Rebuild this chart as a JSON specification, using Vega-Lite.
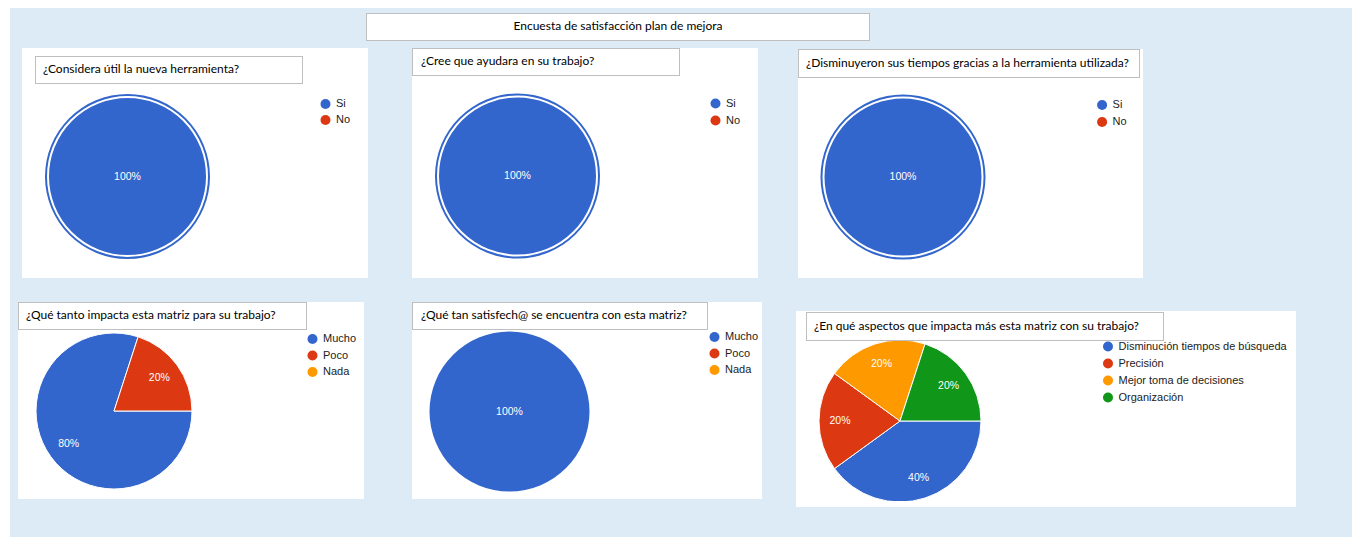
{
"$schema": "https://vega.github.io/schema/vega-lite/v6.json",
"background": "#ffffff",
"padding": {"left": 10, "top": 8, "right": 2, "bottom": 2},
"spacing": 0,
"resolve": {"scale": {"color": "independent", "theta": "independent"}, "legend": {"color": "independent"}},
"config": {
  "view": {"stroke": null},
  "concat": {"spacing": 0},
  "legend": {"orient": "none", "padding": 0, "symbolType": "circle", "symbolSize": 100, "symbolStrokeWidth": 0, "labelFont": "Liberation Sans", "labelFontSize": 11, "labelColor": "#222222", "labelOffset": 5, "rowPadding": 5, "labelLimit": 300},
  "title": {"font": "Lato", "fontSize": 12, "fontWeight": "normal", "color": "#000000", "anchor": "start", "baseline": "middle"}
},
"vconcat": [
  {"width": 1342, "height": 5, "data": {"values": []}, "mark": "point", "encoding": {}, "view": {"fill": "#ddebf7"}},
  {"spacing": 0, "hconcat": [
    {"width": 356, "height": 28, "data": {"values": []}, "mark": "point", "encoding": {}, "view": {"fill": "#ddebf7"}},
    {"spacing": 0, "vconcat": [
      {"width": 504, "height": 1, "data": {"values": []}, "mark": "point", "encoding": {}, "view": {"fill": "#bfbfbf"}},
      {"spacing": 0, "hconcat": [
        {"width": 1, "height": 26, "data": {"values": []}, "mark": "point", "encoding": {}, "view": {"fill": "#bfbfbf"}},
        {"width": 502, "height": 26, "data": {"values": []}, "mark": "point", "encoding": {}, "view": {"fill": "#ffffff"}, "title": {"text": "Encuesta de satisfacción plan de mejora", "anchor": "middle", "offset": -19}},
        {"width": 1, "height": 26, "data": {"values": []}, "mark": "point", "encoding": {}, "view": {"fill": "#bfbfbf"}}
      ]},
      {"width": 504, "height": 1, "data": {"values": []}, "mark": "point", "encoding": {}, "view": {"fill": "#bfbfbf"}}
    ]},
    {"width": 482, "height": 28, "data": {"values": []}, "mark": "point", "encoding": {}, "view": {"fill": "#ddebf7"}}
  ]},
  {"width": 1342, "height": 7, "data": {"values": []}, "mark": "point", "encoding": {}, "view": {"fill": "#ddebf7"}},
  {"spacing": 0, "resolve": {"scale": {"color": "independent", "theta": "independent"}, "legend": {"color": "independent"}}, "hconcat": [
    {"width": 12, "height": 230, "data": {"values": []}, "mark": "point", "encoding": {}, "view": {"fill": "#ddebf7"}},
    {"spacing": 0, "resolve": {"scale": {"color": "independent", "theta": "independent"}, "legend": {"color": "independent"}}, "vconcat": [
      {"width": 346, "height": 8, "data": {"values": []}, "mark": "point", "encoding": {}, "view": {"fill": "#ffffff"}},
      {"spacing": 0, "hconcat": [
        {"width": 13, "height": 28, "data": {"values": []}, "mark": "point", "encoding": {}, "view": {"fill": "#ffffff"}},
        {"spacing": 0, "vconcat": [
          {"width": 268, "height": 1, "data": {"values": []}, "mark": "point", "encoding": {}, "view": {"fill": "#bfbfbf"}},
          {"spacing": 0, "hconcat": [
            {"width": 1, "height": 26, "data": {"values": []}, "mark": "point", "encoding": {}, "view": {"fill": "#bfbfbf"}},
            {"width": 266, "height": 26, "data": {"values": []}, "mark": "point", "encoding": {}, "view": {"fill": "#ffffff"}, "title": {"text": "¿Considera útil la nueva herramienta?", "dx": 7, "offset": -19}},
            {"width": 1, "height": 26, "data": {"values": []}, "mark": "point", "encoding": {}, "view": {"fill": "#bfbfbf"}}
          ]},
          {"width": 268, "height": 1, "data": {"values": []}, "mark": "point", "encoding": {}, "view": {"fill": "#bfbfbf"}}
        ]},
        {"width": 65, "height": 28, "data": {"values": []}, "mark": "point", "encoding": {}, "view": {"fill": "#ffffff"}}
      ]},
      {"spacing": 0, "resolve": {"scale": {"color": "independent", "theta": "independent"}, "legend": {"color": "independent"}}, "hconcat": [
        {"width": 211, "height": 185, "view": {"fill": "#ffffff"},
         "data": {"values": [{"k": "Si", "v": 1, "i": 1}, {"k": "No", "v": 0, "i": 2}]},
         "transform": [{"filter": "datum.v > 0"}],
         "encoding": {"theta": {"field": "v", "type": "quantitative", "stack": true, "scale": {"range": [1.5708, 7.854]}}, "order": {"field": "i", "type": "quantitative"}},
         "layer": [
           {"mark": {"type": "arc", "radius": 82.5}, "encoding": {"color": {"field": "k", "type": "nominal", "scale": {"domain": ["Si", "No"], "range": ["#3366cc", "#dc3912"]}, "legend": null}}},
           {"mark": {"type": "arc", "radius": 79.5, "stroke": "#ffffff", "strokeWidth": 2}, "encoding": {"color": {"field": "k", "type": "nominal", "scale": {"domain": ["Si", "No"], "range": ["#3366cc", "#dc3912"]}, "legend": null}}},
           {"mark": {"type": "text", "radius": 0, "font": "Liberation Sans", "fontSize": 10.5, "fill": "#ffffff"}, "encoding": {"detail": {"field": "k", "type": "nominal"}, "text": {"field": "v", "type": "quantitative", "format": ".0%"}}}
         ]},
        {"width": 135, "height": 185, "view": {"fill": "#ffffff"}, "data": {"values": [{"k": "Si"}, {"k": "No"}]}, "mark": {"type": "arc", "radius": 0},
         "encoding": {"color": {"field": "k", "type": "nominal", "scale": {"domain": ["Si", "No"], "range": ["#3366cc", "#dc3912"]}, "legend": {"title": null, "legendX": 87, "legendY": 14.5, "rowPadding": 4}}}}
      ]},
      {"width": 346, "height": 9, "data": {"values": []}, "mark": "point", "encoding": {}, "view": {"fill": "#ffffff"}}
    ]},
    {"width": 44, "height": 230, "data": {"values": []}, "mark": "point", "encoding": {}, "view": {"fill": "#ddebf7"}},
    {"spacing": 0, "resolve": {"scale": {"color": "independent", "theta": "independent"}, "legend": {"color": "independent"}}, "vconcat": [
      {"spacing": 0, "hconcat": [
        {"spacing": 0, "vconcat": [
          {"width": 268, "height": 1, "data": {"values": []}, "mark": "point", "encoding": {}, "view": {"fill": "#bfbfbf"}},
          {"spacing": 0, "hconcat": [
            {"width": 1, "height": 26, "data": {"values": []}, "mark": "point", "encoding": {}, "view": {"fill": "#bfbfbf"}},
            {"width": 266, "height": 26, "data": {"values": []}, "mark": "point", "encoding": {}, "view": {"fill": "#ffffff"}, "title": {"text": "¿Cree que ayudara en su trabajo?", "dx": 8, "offset": -19}},
            {"width": 1, "height": 26, "data": {"values": []}, "mark": "point", "encoding": {}, "view": {"fill": "#bfbfbf"}}
          ]},
          {"width": 268, "height": 1, "data": {"values": []}, "mark": "point", "encoding": {}, "view": {"fill": "#bfbfbf"}}
        ]},
        {"width": 78, "height": 28, "data": {"values": []}, "mark": "point", "encoding": {}, "view": {"fill": "#ffffff"}}
      ]},
      {"spacing": 0, "resolve": {"scale": {"color": "independent", "theta": "independent"}, "legend": {"color": "independent"}}, "hconcat": [
        {"width": 211, "height": 200, "view": {"fill": "#ffffff"},
         "data": {"values": [{"k": "Si", "v": 1, "i": 1}, {"k": "No", "v": 0, "i": 2}]},
         "transform": [{"filter": "datum.v > 0"}],
         "encoding": {"theta": {"field": "v", "type": "quantitative", "stack": true, "scale": {"range": [1.5708, 7.854]}}, "order": {"field": "i", "type": "quantitative"}},
         "layer": [
           {"mark": {"type": "arc", "radius": 82.5}, "encoding": {"color": {"field": "k", "type": "nominal", "scale": {"domain": ["Si", "No"], "range": ["#3366cc", "#dc3912"]}, "legend": null}}},
           {"mark": {"type": "arc", "radius": 79.5, "stroke": "#ffffff", "strokeWidth": 2}, "encoding": {"color": {"field": "k", "type": "nominal", "scale": {"domain": ["Si", "No"], "range": ["#3366cc", "#dc3912"]}, "legend": null}}},
           {"mark": {"type": "text", "radius": 0, "font": "Liberation Sans", "fontSize": 10.5, "fill": "#ffffff"}, "encoding": {"detail": {"field": "k", "type": "nominal"}, "text": {"field": "v", "type": "quantitative", "format": ".0%"}}}
         ]},
        {"width": 135, "height": 200, "view": {"fill": "#ffffff"}, "data": {"values": [{"k": "Si"}, {"k": "No"}]}, "mark": {"type": "arc", "radius": 0},
         "encoding": {"color": {"field": "k", "type": "nominal", "scale": {"domain": ["Si", "No"], "range": ["#3366cc", "#dc3912"]}, "legend": {"title": null, "legendX": 87, "legendY": 22}}}}
      ]},
      {"width": 346, "height": 2, "data": {"values": []}, "mark": "point", "encoding": {}, "view": {"fill": "#ffffff"}}
    ]},
    {"width": 40, "height": 230, "data": {"values": []}, "mark": "point", "encoding": {}, "view": {"fill": "#ddebf7"}},
    {"spacing": 0, "resolve": {"scale": {"color": "independent", "theta": "independent"}, "legend": {"color": "independent"}}, "vconcat": [
      {"width": 345, "height": 1, "data": {"values": []}, "mark": "point", "encoding": {}, "view": {"fill": "#ddebf7"}},
      {"spacing": 0, "hconcat": [
        {"spacing": 0, "vconcat": [
          {"width": 342, "height": 1, "data": {"values": []}, "mark": "point", "encoding": {}, "view": {"fill": "#bfbfbf"}},
          {"spacing": 0, "hconcat": [
            {"width": 1, "height": 27, "data": {"values": []}, "mark": "point", "encoding": {}, "view": {"fill": "#bfbfbf"}},
            {"width": 340, "height": 27, "data": {"values": []}, "mark": "point", "encoding": {}, "view": {"fill": "#ffffff"}, "title": {"text": "¿Disminuyeron sus tiempos gracias a la herramienta utilizada?", "dx": 7, "offset": -19.5}},
            {"width": 1, "height": 27, "data": {"values": []}, "mark": "point", "encoding": {}, "view": {"fill": "#bfbfbf"}}
          ]},
          {"width": 342, "height": 1, "data": {"values": []}, "mark": "point", "encoding": {}, "view": {"fill": "#bfbfbf"}}
        ]},
        {"width": 3, "height": 29, "data": {"values": []}, "mark": "point", "encoding": {}, "view": {"fill": "#ffffff"}}
      ]},
      {"spacing": 0, "resolve": {"scale": {"color": "independent", "theta": "independent"}, "legend": {"color": "independent"}}, "hconcat": [
        {"width": 210, "height": 198, "view": {"fill": "#ffffff"},
         "data": {"values": [{"k": "Si", "v": 1, "i": 1}, {"k": "No", "v": 0, "i": 2}]},
         "transform": [{"filter": "datum.v > 0"}],
         "encoding": {"theta": {"field": "v", "type": "quantitative", "stack": true, "scale": {"range": [1.5708, 7.854]}}, "order": {"field": "i", "type": "quantitative"}},
         "layer": [
           {"mark": {"type": "arc", "radius": 82.5}, "encoding": {"color": {"field": "k", "type": "nominal", "scale": {"domain": ["Si", "No"], "range": ["#3366cc", "#dc3912"]}, "legend": null}}},
           {"mark": {"type": "arc", "radius": 79.5, "stroke": "#ffffff", "strokeWidth": 2}, "encoding": {"color": {"field": "k", "type": "nominal", "scale": {"domain": ["Si", "No"], "range": ["#3366cc", "#dc3912"]}, "legend": null}}},
           {"mark": {"type": "text", "radius": 0, "font": "Liberation Sans", "fontSize": 10.5, "fill": "#ffffff"}, "encoding": {"detail": {"field": "k", "type": "nominal"}, "text": {"field": "v", "type": "quantitative", "format": ".0%"}}}
         ]},
        {"width": 135, "height": 198, "view": {"fill": "#ffffff"}, "data": {"values": [{"k": "Si"}, {"k": "No"}]}, "mark": {"type": "arc", "radius": 0},
         "encoding": {"color": {"field": "k", "type": "nominal", "scale": {"domain": ["Si", "No"], "range": ["#3366cc", "#dc3912"]}, "legend": {"title": null, "legendX": 88.6, "legendY": 21.5}}}}
      ]},
      {"width": 345, "height": 2, "data": {"values": []}, "mark": "point", "encoding": {}, "view": {"fill": "#ffffff"}}
    ]},
    {"width": 209, "height": 230, "data": {"values": []}, "mark": "point", "encoding": {}, "view": {"fill": "#ddebf7"}}
  ]},
  {"width": 1342, "height": 24, "data": {"values": []}, "mark": "point", "encoding": {}, "view": {"fill": "#ddebf7"}},
  {"spacing": 0, "resolve": {"scale": {"color": "independent", "theta": "independent"}, "legend": {"color": "independent"}}, "hconcat": [
    {"width": 8, "height": 235, "data": {"values": []}, "mark": "point", "encoding": {}, "view": {"fill": "#ddebf7"}},
    {"spacing": 0, "resolve": {"scale": {"color": "independent", "theta": "independent"}, "legend": {"color": "independent"}}, "vconcat": [
      {"spacing": 0, "hconcat": [
        {"spacing": 0, "vconcat": [
          {"width": 289, "height": 1, "data": {"values": []}, "mark": "point", "encoding": {}, "view": {"fill": "#bfbfbf"}},
          {"spacing": 0, "hconcat": [
            {"width": 1, "height": 26, "data": {"values": []}, "mark": "point", "encoding": {}, "view": {"fill": "#bfbfbf"}},
            {"width": 287, "height": 26, "data": {"values": []}, "mark": "point", "encoding": {}, "view": {"fill": "#ffffff"}, "title": {"text": "¿Qué tanto impacta esta matriz para su trabajo?", "dx": 7, "offset": -19}},
            {"width": 1, "height": 26, "data": {"values": []}, "mark": "point", "encoding": {}, "view": {"fill": "#bfbfbf"}}
          ]},
          {"width": 289, "height": 1, "data": {"values": []}, "mark": "point", "encoding": {}, "view": {"fill": "#bfbfbf"}}
        ]},
        {"width": 57, "height": 28, "data": {"values": []}, "mark": "point", "encoding": {}, "view": {"fill": "#ffffff"}}
      ]},
      {"spacing": 0, "resolve": {"scale": {"color": "independent", "theta": "independent"}, "legend": {"color": "independent"}}, "hconcat": [
        {"width": 192, "height": 162, "view": {"fill": "#ffffff"},
         "data": {"values": [{"k": "Mucho", "v": 0.8, "i": 1}, {"k": "Poco", "v": 0.2, "i": 2}, {"k": "Nada", "v": 0, "i": 3}]},
         "transform": [{"filter": "datum.v > 0"}],
         "encoding": {"theta": {"field": "v", "type": "quantitative", "stack": true, "scale": {"range": [1.5708, 7.854]}}, "order": {"field": "i", "type": "quantitative"}},
         "layer": [
           {"mark": {"type": "arc", "radius": 78, "stroke": "#ffffff", "strokeWidth": 1}, "encoding": {"color": {"field": "k", "type": "nominal", "scale": {"domain": ["Mucho", "Poco", "Nada"], "range": ["#3366cc", "#dc3912", "#ff9900"]}, "legend": null}}},
           {"mark": {"type": "text", "radius": 56, "font": "Liberation Sans", "fontSize": 10.5, "fill": "#ffffff"}, "encoding": {"detail": {"field": "k", "type": "nominal"}, "text": {"field": "v", "type": "quantitative", "format": ".0%"}}}
         ]},
        {"width": 154, "height": 162, "view": {"fill": "#ffffff"}, "data": {"values": [{"k": "Mucho"}, {"k": "Poco"}, {"k": "Nada"}]}, "mark": {"type": "arc", "radius": 0},
         "encoding": {"color": {"field": "k", "type": "nominal", "scale": {"domain": ["Mucho", "Poco", "Nada"], "range": ["#3366cc", "#dc3912", "#ff9900"]}, "legend": {"title": null, "legendX": 97, "legendY": 3.5, "rowPadding": 4.5}}}}
      ]},
      {"width": 346, "height": 7, "data": {"values": []}, "mark": "point", "encoding": {}, "view": {"fill": "#ffffff"}},
      {"width": 346, "height": 38, "data": {"values": []}, "mark": "point", "encoding": {}, "view": {"fill": "#ddebf7"}}
    ]},
    {"width": 48, "height": 235, "data": {"values": []}, "mark": "point", "encoding": {}, "view": {"fill": "#ddebf7"}},
    {"spacing": 0, "resolve": {"scale": {"color": "independent", "theta": "independent"}, "legend": {"color": "independent"}}, "vconcat": [
      {"spacing": 0, "hconcat": [
        {"spacing": 0, "vconcat": [
          {"width": 296, "height": 1, "data": {"values": []}, "mark": "point", "encoding": {}, "view": {"fill": "#bfbfbf"}},
          {"spacing": 0, "hconcat": [
            {"width": 1, "height": 26, "data": {"values": []}, "mark": "point", "encoding": {}, "view": {"fill": "#bfbfbf"}},
            {"width": 294, "height": 26, "data": {"values": []}, "mark": "point", "encoding": {}, "view": {"fill": "#ffffff"}, "title": {"text": "¿Qué tan satisfech@ se encuentra con esta matriz?", "dx": 8, "offset": -19}},
            {"width": 1, "height": 26, "data": {"values": []}, "mark": "point", "encoding": {}, "view": {"fill": "#bfbfbf"}}
          ]},
          {"width": 296, "height": 1, "data": {"values": []}, "mark": "point", "encoding": {}, "view": {"fill": "#bfbfbf"}}
        ]},
        {"width": 54, "height": 28, "data": {"values": []}, "mark": "point", "encoding": {}, "view": {"fill": "#ffffff"}}
      ]},
      {"spacing": 0, "resolve": {"scale": {"color": "independent", "theta": "independent"}, "legend": {"color": "independent"}}, "hconcat": [
        {"width": 195, "height": 163, "view": {"fill": "#ffffff"},
         "data": {"values": [{"k": "Mucho", "v": 1, "i": 1}, {"k": "Poco", "v": 0, "i": 2}, {"k": "Nada", "v": 0, "i": 3}]},
         "transform": [{"filter": "datum.v > 0"}],
         "encoding": {"theta": {"field": "v", "type": "quantitative", "stack": true, "scale": {"range": [1.5708, 7.854]}}, "order": {"field": "i", "type": "quantitative"}},
         "layer": [
           {"mark": {"type": "arc", "radius": 80}, "encoding": {"color": {"field": "k", "type": "nominal", "scale": {"domain": ["Mucho", "Poco", "Nada"], "range": ["#3366cc", "#dc3912", "#ff9900"]}, "legend": null}}},
           {"mark": {"type": "text", "radius": 0, "font": "Liberation Sans", "fontSize": 10.5, "fill": "#ffffff"}, "encoding": {"detail": {"field": "k", "type": "nominal"}, "text": {"field": "v", "type": "quantitative", "format": ".0%"}}}
         ]},
        {"width": 155, "height": 163, "view": {"fill": "#ffffff"}, "data": {"values": [{"k": "Mucho"}, {"k": "Poco"}, {"k": "Nada"}]}, "mark": {"type": "arc", "radius": 0},
         "encoding": {"color": {"field": "k", "type": "nominal", "scale": {"domain": ["Mucho", "Poco", "Nada"], "range": ["#3366cc", "#dc3912", "#ff9900"]}, "legend": {"title": null, "legendX": 102, "legendY": 1.5, "rowPadding": 4.5}}}}
      ]},
      {"width": 350, "height": 6, "data": {"values": []}, "mark": "point", "encoding": {}, "view": {"fill": "#ffffff"}},
      {"width": 350, "height": 38, "data": {"values": []}, "mark": "point", "encoding": {}, "view": {"fill": "#ddebf7"}}
    ]},
    {"width": 34, "height": 235, "data": {"values": []}, "mark": "point", "encoding": {}, "view": {"fill": "#ddebf7"}},
    {"spacing": 0, "resolve": {"scale": {"color": "independent", "theta": "independent"}, "legend": {"color": "independent"}}, "vconcat": [
      {"width": 500, "height": 9, "data": {"values": []}, "mark": "point", "encoding": {}, "view": {"fill": "#ddebf7"}},
      {"width": 500, "height": 1, "data": {"values": []}, "mark": "point", "encoding": {}, "view": {"fill": "#ffffff"}},
      {"spacing": 0, "hconcat": [
        {"width": 10, "height": 29, "data": {"values": []}, "mark": "point", "encoding": {}, "view": {"fill": "#ffffff"}},
        {"spacing": 0, "vconcat": [
          {"width": 358, "height": 1, "data": {"values": []}, "mark": "point", "encoding": {}, "view": {"fill": "#bfbfbf"}},
          {"spacing": 0, "hconcat": [
            {"width": 1, "height": 27, "data": {"values": []}, "mark": "point", "encoding": {}, "view": {"fill": "#bfbfbf"}},
            {"width": 356, "height": 27, "data": {"values": []}, "mark": "point", "encoding": {}, "view": {"fill": "#ffffff"}, "title": {"text": "¿En qué aspectos que impacta más esta matriz con su trabajo?", "dx": 7, "offset": -19.5}},
            {"width": 1, "height": 27, "data": {"values": []}, "mark": "point", "encoding": {}, "view": {"fill": "#bfbfbf"}}
          ]},
          {"width": 358, "height": 1, "data": {"values": []}, "mark": "point", "encoding": {}, "view": {"fill": "#bfbfbf"}}
        ]},
        {"width": 132, "height": 29, "data": {"values": []}, "mark": "point", "encoding": {}, "view": {"fill": "#ffffff"}}
      ]},
      {"spacing": 0, "resolve": {"scale": {"color": "independent", "theta": "independent"}, "legend": {"color": "independent"}}, "hconcat": [
        {"width": 208, "height": 160, "view": {"fill": "#ffffff"},
         "data": {"values": [{"k": "Disminución tiempos de búsqueda", "v": 0.4, "i": 1}, {"k": "Precisión", "v": 0.2, "i": 2}, {"k": "Mejor toma de decisiones", "v": 0.2, "i": 3}, {"k": "Organización", "v": 0.2, "i": 4}]},
         "transform": [{"filter": "datum.v > 0"}],
         "encoding": {"theta": {"field": "v", "type": "quantitative", "stack": true, "scale": {"range": [1.5708, 7.854]}}, "order": {"field": "i", "type": "quantitative"}},
         "layer": [
           {"mark": {"type": "arc", "radius": 81, "stroke": "#ffffff", "strokeWidth": 1, "clip": true}, "encoding": {"color": {"field": "k", "type": "nominal", "scale": {"domain": ["Disminución tiempos de búsqueda", "Precisión", "Mejor toma de decisiones", "Organización"], "range": ["#3366cc", "#dc3912", "#ff9900", "#109618"]}, "legend": null}}},
           {"mark": {"type": "text", "radius": 60, "font": "Liberation Sans", "fontSize": 10.5, "fill": "#ffffff"}, "encoding": {"detail": {"field": "k", "type": "nominal"}, "text": {"field": "v", "type": "quantitative", "format": ".0%"}}}
         ]},
        {"width": 292, "height": 160, "view": {"fill": "#ffffff"}, "data": {"values": [{"k": "Disminución tiempos de búsqueda"}, {"k": "Precisión"}, {"k": "Mejor toma de decisiones"}, {"k": "Organización"}]}, "mark": {"type": "arc", "radius": 0},
         "encoding": {"color": {"field": "k", "type": "nominal", "scale": {"domain": ["Disminución tiempos de búsqueda", "Precisión", "Mejor toma de decisiones", "Organización"], "range": ["#3366cc", "#dc3912", "#ff9900", "#109618"]}, "legend": {"title": null, "legendX": 98.5, "legendY": 0, "rowPadding": 5}}}}
      ]},
      {"width": 500, "height": 6, "data": {"values": []}, "mark": "point", "encoding": {}, "view": {"fill": "#ffffff"}},
      {"width": 500, "height": 30, "data": {"values": []}, "mark": "point", "encoding": {}, "view": {"fill": "#ddebf7"}}
    ]},
    {"width": 56, "height": 235, "data": {"values": []}, "mark": "point", "encoding": {}, "view": {"fill": "#ddebf7"}}
  ]}
]
}
